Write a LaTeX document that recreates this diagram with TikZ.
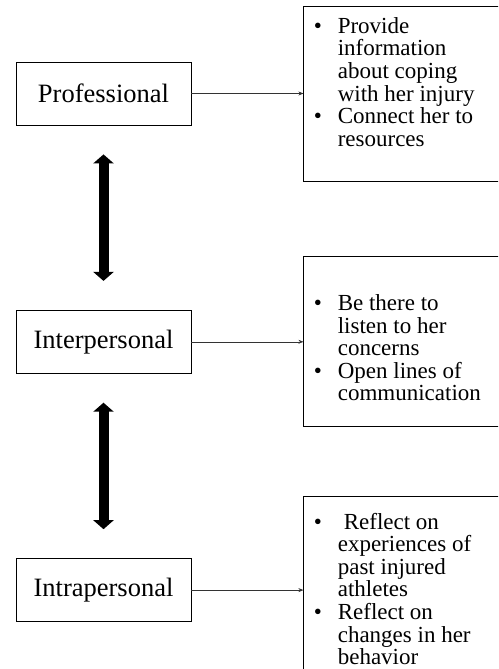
\documentclass[tikz,border=0pt]{standalone}
\usepackage{fontspec}
\setmainfont{Liberation Serif}
\usetikzlibrary{shapes,arrows.meta,positioning}

% one bullet point, hanging text
\newcommand{\bitem}[1]{\par\noindent\hangindent=24pt\hangafter=1\makebox[24pt][l]{\textbullet}#1\par}
% text of a right box: height, top gap, items
\newcommand{\infotext}[3]{\begin{minipage}[c][#1][t]{200pt}\vspace{#2}\fontsize{23pt}{22.6pt}\selectfont#3\end{minipage}}

\begin{document}
\begin{tikzpicture}[
    x=1pt, y=1pt,
    node distance=184.5pt,
    catbox/.style={rectangle, draw=black, line width=0.8pt, minimum width=175pt,
                   minimum height=63pt, inner sep=0pt,
                   font=\fontsize{26.5pt}{30pt}\selectfont},
    infobox/.style={rectangle, draw=black, line width=0.8pt, inner xsep=10pt,
                    inner ysep=0pt, anchor=west},
    arr/.style={->, >={Stealth[length=5pt,width=4pt]}, line width=0.6pt, draw=black!80},
    dbl/.style={<->, >={Triangle[width=20pt,length=9pt]}, line width=10pt,
                shorten <=29pt, shorten >=29pt},
  ]
  \clip (0,0) rectangle (498,-669);
  \node[catbox] (prof) at (103.5,-93.5) {Professional};
  \node[catbox, below=of prof] (inter) {Interpersonal};
  \node[catbox, below=of inter] (intra) {Intrapersonal};

  \node[infobox, right=112pt of prof] (profinfo) {\infotext{175pt}{11.3pt}{%
    \bitem{Provide\\information\\about coping\\with her injury}
    \bitem{Connect her to\\resources}}};
  \node[infobox, right=112pt of inter] (interinfo) {\infotext{170pt}{37.8pt}{%
    \bitem{Be there to\\listen to her\\concerns}
    \bitem{Open lines of\\communication}}};
  \node[infobox, right=112pt of intra] (intrainfo) {\infotext{187pt}{16.3pt}{%
    \bitem{\hspace{6pt}Reflect on\\experiences of\\past injured\\athletes}
    \bitem{Reflect on\\changes in her\\behavior}}};

  \draw[arr] (prof) -- (profinfo);
  \draw[arr] (inter) -- (interinfo);
  \draw[arr] (intra) -- (intrainfo);
  \draw[dbl] (prof) -- (inter);
  \draw[dbl] (inter) -- (intra);
\end{tikzpicture}
\end{document}
